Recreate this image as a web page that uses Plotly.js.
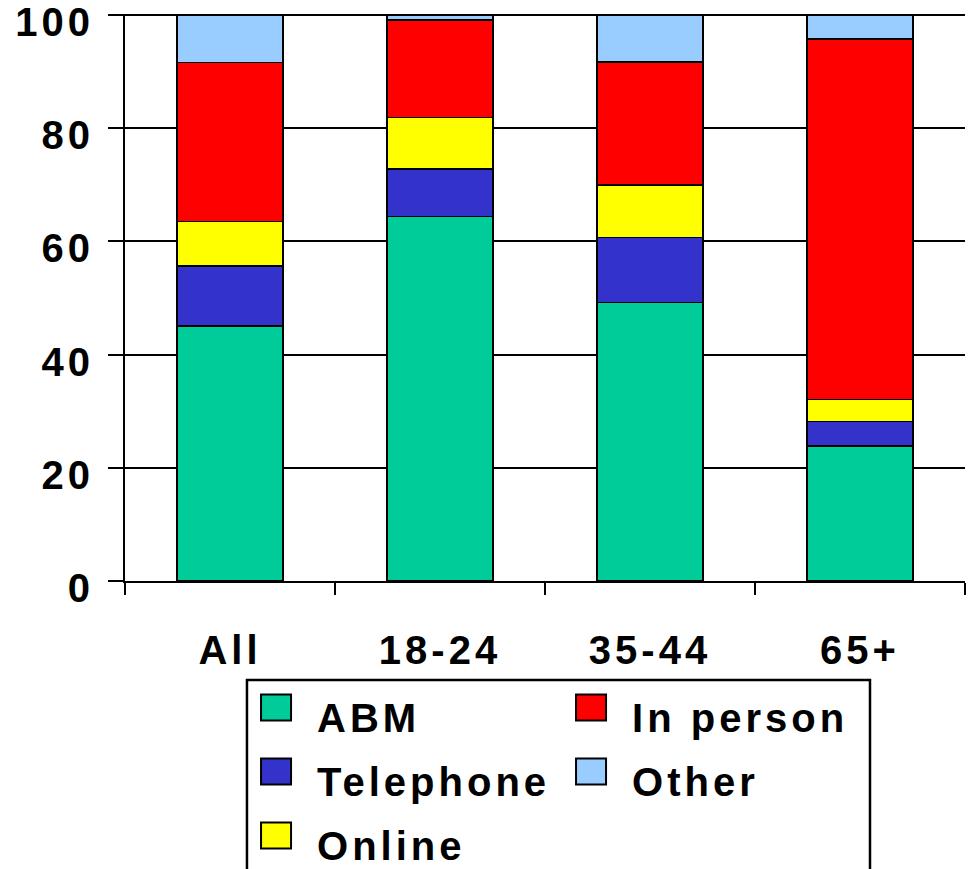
<!DOCTYPE html>
<html>
<head>
<meta charset="utf-8">
<script src="https://cdn.plot.ly/plotly-3.0.1.min.js"></script>
<style>
  html, body { margin: 0; padding: 0; background: #ffffff; }
  #chart { width: 973px; height: 869px; }
  #chart .main-svg text { letter-spacing: 4px; }
</style>
</head>
<body>
<div id="chart"></div>
<script>
// ---- data ----
var categories = ['All', '18-24', '35-44', '65+'];
var abm       = [45.1, 64.4, 49.2, 23.9];
var telephone = [10.6, 8.4, 11.5, 4.3];
var online    = [7.8, 9.1, 9.3, 3.9];
var inPerson  = [28.1, 17.2, 21.7, 63.7];
var other     = [8.4, 0.9, 8.3, 4.2];
var yTicks    = [0, 20, 40, 60, 80, 100];

// ---- styling ----
var FONT = 'Liberation Sans, Arial, Helvetica, sans-serif';
var LINE = {color: '#000000', width: 1.5};

function series(name, values, color, legendId) {
  return {
    type: 'bar',
    name: name,
    x: categories,
    y: values,
    marker: {color: color, line: LINE},
    legend: legendId,
    legendgroup: name,
    hoverinfo: 'skip'
  };
}

var traces = [
  series('ABM', abm, '#00CC99', 'legend'),
  series('Telephone', telephone, '#3333CC', 'legend'),
  series('Online', online, '#FFFF00', 'legend'),
  series('In person', inPerson, '#FF0000', 'legend2'),
  series('Other', other, '#99CCFF', 'legend2')
];

var legendFont = {family: FONT, size: 40, color: '#000000', weight: 'bold'};
function legendDef(x) {
  return {
    x: x, xref: 'paper', xanchor: 'left',
    y: -0.1817, yref: 'paper', yanchor: 'top',
    orientation: 'v',
    traceorder: 'grouped',
    tracegroupgap: 9,
    itemwidth: 72,
    bgcolor: 'rgba(0,0,0,0)',
    borderwidth: 0,
    font: legendFont
  };
}

var layout = {
  width: 973,
  height: 869,
  margin: {l: 125, r: 8, t: 14, b: 288, autoexpand: false},
  paper_bgcolor: '#ffffff',
  plot_bgcolor: '#ffffff',
  barmode: 'stack',
  bargap: 0.495,
  font: {family: FONT, size: 40, color: '#000000', weight: 'bold'},
  showlegend: true,
  legend: legendDef(0.131),
  legend2: legendDef(0.506),
  xaxis: {
    type: 'category',
    showline: true, linecolor: '#000000', linewidth: 2,
    ticks: 'outside', tickson: 'boundaries', ticklen: 12, tickwidth: 2, tickcolor: '#000000',
    ticklabelstandoff: 33,
    showgrid: false, zeroline: false,
    tickfont: {family: FONT, size: 40, color: '#000000', weight: 'bold'}
  },
  yaxis: {
    range: [0, 100.2],
    tickmode: 'array', tickvals: yTicks, ticktext: yTicks.map(String),
    showline: true, linecolor: '#000000', linewidth: 2,
    ticks: 'outside', ticklen: 15, tickwidth: 2, tickcolor: '#000000',
    ticklabelstandoff: 6,
    ticklabelshift: 7,
    ticklabeloverflow: 'allow',
    showgrid: true, gridcolor: '#000000', gridwidth: 2,
    zeroline: false,
    tickfont: {family: FONT, size: 40, color: '#000000', weight: 'bold'}
  },
  shapes: [{
    type: 'rect', xref: 'paper', yref: 'paper',
    x0: 0.1452, x1: 0.8869, y0: -0.1746, y1: -0.6,
    line: {color: '#000000', width: 2.5},
    fillcolor: 'rgba(0,0,0,0)',
    layer: 'above'
  }]
};

Plotly.newPlot('chart', traces, layout, {staticPlot: true, displayModeBar: false}).then(function () {
  // enlarge legend colour swatches to match the reference
  document.querySelectorAll('#chart .legendpoints path').forEach(function (p) {
    p.setAttribute('d', 'M15,4H-15V-22H15Z');
    p.style.strokeWidth = '2px';
  });
  // letter-spacing widens the text beyond Plotly's measured legend boxes: drop their clips
  document.querySelectorAll('#chart .infolayer, #chart .infolayer *').forEach(function (el) {
    if (el.hasAttribute && el.hasAttribute('clip-path')) el.removeAttribute('clip-path');
  });
});
</script>
</body>
</html>
